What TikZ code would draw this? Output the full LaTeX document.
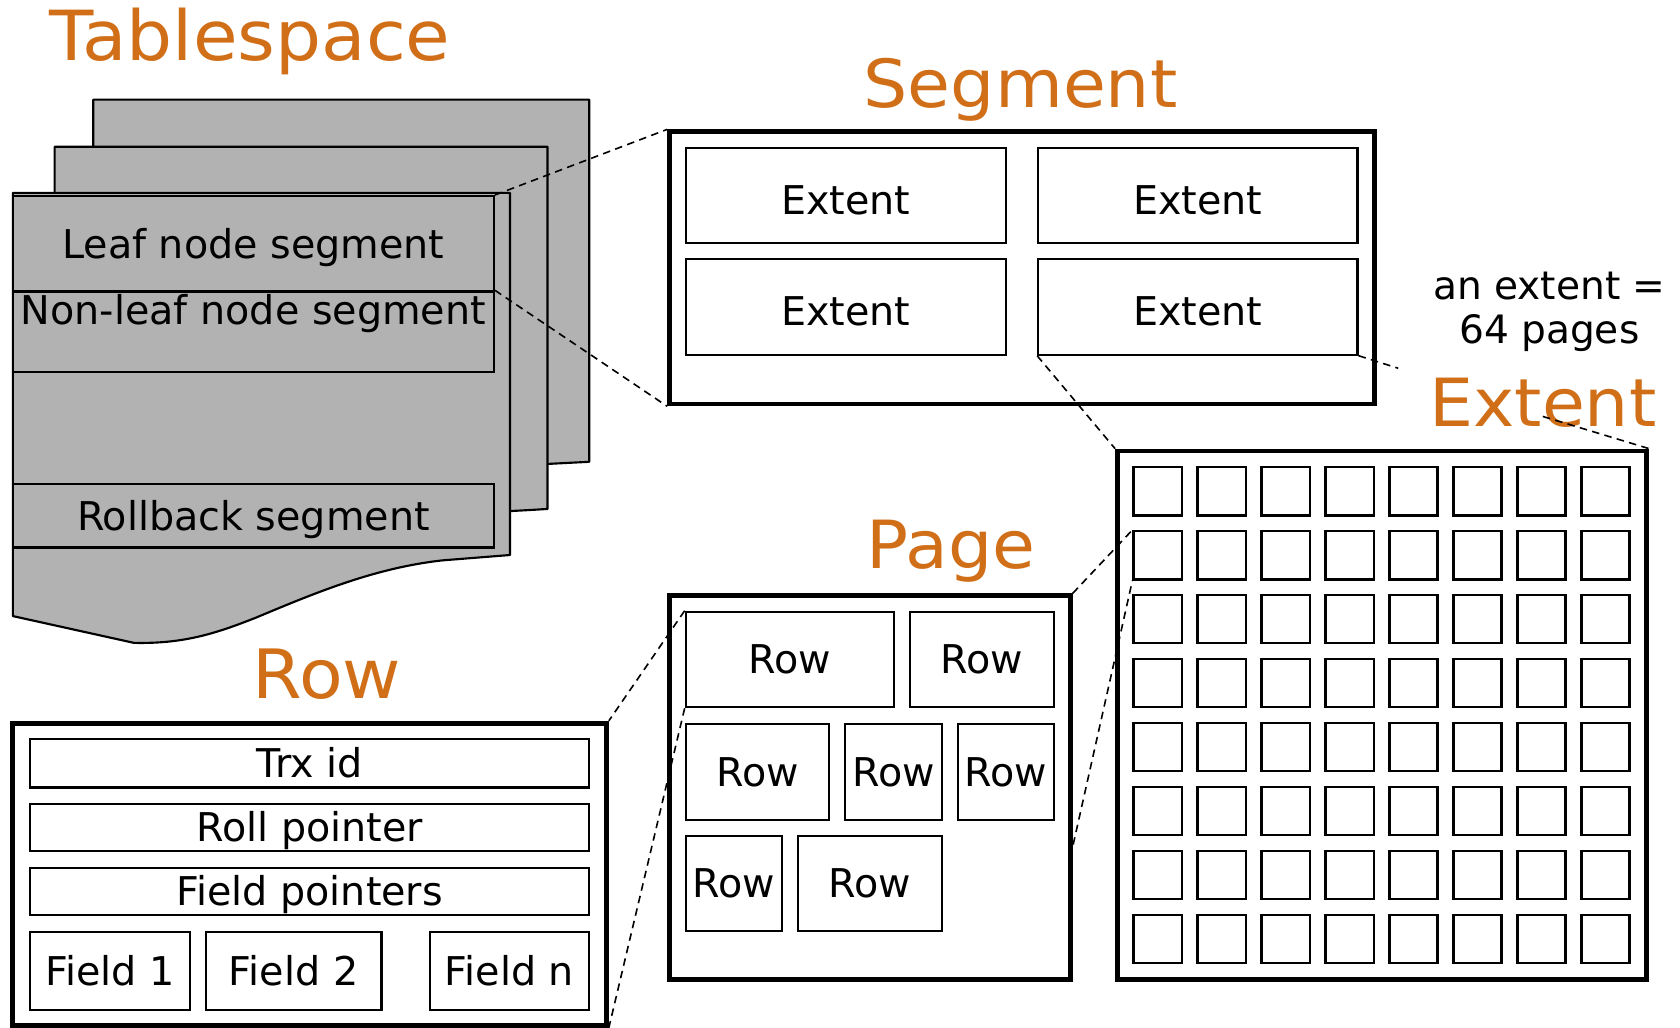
\documentclass[tikz,border=0pt]{standalone}
\usepackage{fontspec}
\setmainfont{DejaVu Sans}
\newfontfamily\ttlfont[FakeStretch=1.05]{DejaVu Sans}
\definecolor{ttlorange}{RGB}{209,111,25}
\definecolor{sheetgray}{RGB}{178,178,178}
\begin{document}
\begin{tikzpicture}[x=1pt,y=-1pt,
  ttl/.style={inner sep=0pt, text=ttlorange, font=\ttlfont\fontsize{62}{70}\selectfont},
  ibox/.style={draw, line width=2pt, inner sep=0pt, text height=27pt, text depth=0pt, font=\fontsize{37}{42}\selectfont},
  ebox/.style={ibox, text height=35pt, minimum height=89pt},
  obox/.style={draw, line width=4.5pt, inner sep=0pt},
  cell/.style={draw, line width=2.2pt, inner sep=0pt, minimum size=45pt},
  sheet/.style={fill=sheetgray, draw=black, line width=2pt, line join=round},
  conn/.style={line width=1.5pt, dash pattern=on 7pt off 5pt}]
\useasboundingbox (0,0) rectangle (1568,959);

% ---------- Tablespace ----------
\draw[sheet] (87,93) -- (550,93) -- (550,431) .. controls (530,432) .. (511,433) -- (87,433) -- cycle;
\draw[sheet] (51,137) -- (511,137) -- (511,475) .. controls (495,476) .. (476,477) -- (51,477) -- cycle;
\draw[sheet] (12,180) -- (476,180) -- (476,518) -- (413,523)
  .. controls (350,530) and (295,553) .. (240,576)
  .. controls (200,592) and (170,601) .. (125,600) -- (12,575) -- cycle;

\node[ibox, minimum width=449pt, minimum height=89pt] (leaf) at (236.5,227.5) {Leaf node segment};
\node[ibox, minimum width=449pt, inner ysep=0pt, text height=30.9pt, text depth=44.1pt] (nonleaf) at (236.5,309.5) {Non-leaf node segment};
\node[ibox, minimum width=449pt, minimum height=59pt] (rollback) at (236.5,481.5) {Rollback segment};

\node[ttl, anchor=base, font=\ttlfont\fontsize{64.5}{72}\selectfont] (tTable) at (233.5,56) {Tablespace};

% ---------- Segment ----------
\node[obox, minimum width=658pt, minimum height=254pt] (seg) at (954,250) {};
\node[ebox, minimum width=299pt] (e1) at (789.5,182.5) {Extent};
\node[ebox, minimum width=298pt] (e2) at (1118,182.5) {Extent};
\node[ebox, minimum width=299pt] (e3) at (789.5,286.5) {Extent};
\node[ebox, minimum width=298pt] (e4) at (1118,286.5) {Extent};
\node[ttl, anchor=base] (tSeg) at (952.5,100) {Segment};

\node[align=center, inner sep=0pt, font=\fontsize{36.5}{41}\selectfont] (note) at (1446,291) {an extent =\\64 pages};

% ---------- Extent ----------
\node[obox, minimum width=494pt, minimum height=493pt] (ext) at (1290,667.5) {};
\foreach \i in {0,...,7} {
  \foreach \j in {0,...,7} {
    \node[cell] (c-\i-\j) at ({1080.5+59.7*\i},{458.5+59.7*\j}) {};
  }
}
\node[ttl, anchor=base] (tExt) at (1440,398) {Extent};

% ---------- Page ----------
\node[obox, minimum width=374pt, minimum height=358pt] (page) at (812,735) {};
\node[ibox, minimum width=194pt, minimum height=89pt] (r1) at (737,615.5) {Row};
\node[ibox, minimum width=135pt, minimum height=89pt] (r2) at (916.5,615.5) {Row};
\node[ibox, minimum width=134pt, minimum height=89pt] (r3) at (707,720.5) {Row};
\node[ibox, minimum width=90pt, minimum height=89pt] (r4) at (834,720.5) {Row};
\node[ibox, minimum width=90pt, minimum height=89pt] (r5) at (939,720.5) {Row};
\node[ibox, minimum width=90pt, minimum height=89pt] (r6) at (685,824.5) {Row};
\node[ibox, minimum width=134pt, minimum height=89pt] (r7) at (812,824.5) {Row};
\node[ttl, anchor=base] (tPage) at (887.5,531) {Page};

% ---------- Row ----------
\node[obox, minimum width=554pt, minimum height=282pt] (rowbox) at (289,816) {};
\node[ibox, minimum width=522pt, minimum height=45pt] (trx) at (289,712.5) {Trx id};
\node[ibox, minimum width=522pt, minimum height=44pt] (roll) at (289,772) {Roll pointer};
\node[ibox, minimum width=522pt, minimum height=44pt] (fp) at (289,832) {Field pointers};
\node[ibox, minimum width=149pt, minimum height=73pt] (f1) at (102.5,906.5) {Field 1};
\node[ibox, minimum width=164pt, minimum height=73pt] (f2) at (274,906.5) {Field 2};
\node[ibox, minimum width=149pt, minimum height=73pt] (fn) at (475.5,906.5) {Field n};
\node[ttl, anchor=base, font=\ttlfont\fontsize{63.5}{72}\selectfont] (tRow) at (305,652) {Row};

% ---------- zoom connectors ----------
\coordinate (g1) at (1305,343.7);
\coordinate (g2) at (1440,388.7);
\coordinate (pg6) at (999,800);
\draw[conn] (leaf.north east) -- (seg.north west);
\draw[conn] (nonleaf.north east) -- (seg.south west);
\draw[conn] (e4.south west) -- (ext.north west);
\draw[conn] (e4.south east) -- (g1);
\draw[conn] (g2) -- (ext.north east);
\draw[conn] (page.north east) -- (c-0-1.north west);
\draw[conn] (pg6) -- (c-0-1.south west);
\draw[conn] (r1.north west) -- (rowbox.north east);
\draw[conn] (r1.south west) -- (rowbox.south east);
\end{tikzpicture}
\end{document}
